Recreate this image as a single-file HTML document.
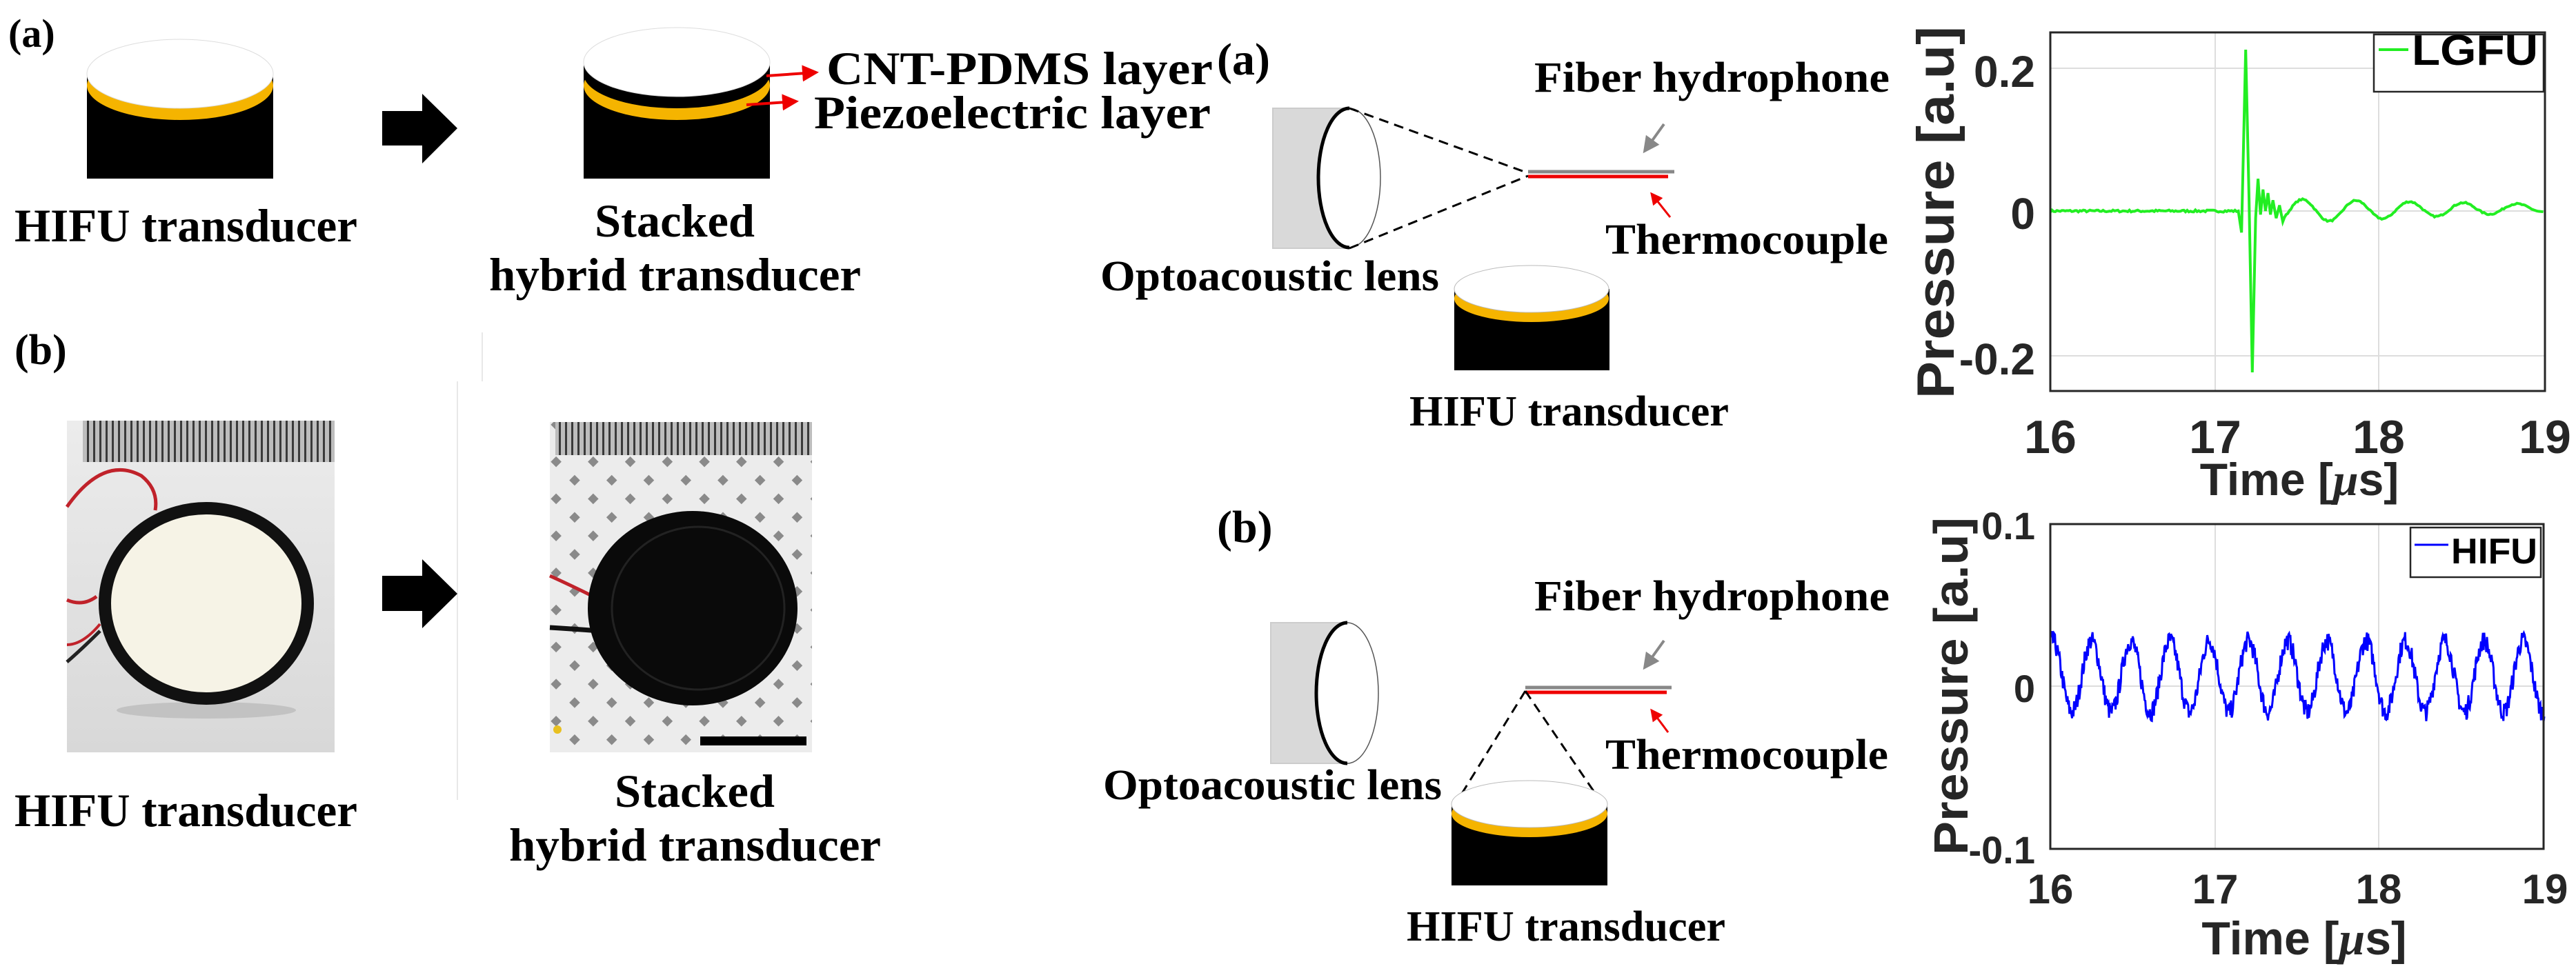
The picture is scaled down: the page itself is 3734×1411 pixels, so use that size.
<!DOCTYPE html>
<html><head><meta charset="utf-8"><style>
html,body{margin:0;padding:0;background:#fff}
svg{display:block}
.s{font-family:"Liberation Serif",serif;font-weight:bold;fill:#000}
.a{font-family:"Liberation Sans",sans-serif;font-weight:bold;fill:#262626}
</style></head><body>
<svg id="sv" width="3734" height="1411" viewBox="0 0 3734 1411" xmlns="http://www.w3.org/2000/svg">
<defs>
<pattern id="rul" width="9" height="60" patternUnits="userSpaceOnUse"><rect width="9" height="60" fill="#bdbdbd"/><rect width="3" height="60" fill="#3a3a3a"/></pattern>
<pattern id="dots" width="38" height="38" patternUnits="userSpaceOnUse" patternTransform="rotate(45)"><rect width="38" height="38" fill="#ececec"/><rect x="12" y="12" width="11" height="11" fill="#8a8a8a"/></pattern>
<linearGradient id="bg1" x1="0" y1="0" x2="0" y2="1"><stop offset="0" stop-color="#ececec"/><stop offset="1" stop-color="#d8d8d8"/></linearGradient>
<marker id="ar" markerWidth="6" markerHeight="6" refX="5" refY="3" orient="auto"><path d="M0,0L6,3L0,6z" fill="#e00"/></marker>
<marker id="ag" markerWidth="6" markerHeight="6" refX="5" refY="3" orient="auto"><path d="M0,0L6,3L0,6z" fill="#888"/></marker>
</defs>

<!-- LEFT (a) -->
<text class="s" x="12" y="68" font-size="58" font-weight="normal">(a)</text>
<rect x="126" y="107" width="270" height="152" fill="#000"/>
<ellipse cx="261" cy="124" rx="135" ry="50" fill="#f5b400"/>
<ellipse cx="261" cy="107" rx="135" ry="50" fill="#fff" stroke="#ddd" stroke-width="1"/>
<path d="M554,161H612V136L663,186L612,237V211H554Z" fill="#000"/>
<rect x="846" y="90" width="270" height="169" fill="#000"/>
<ellipse cx="981" cy="124" rx="135" ry="50" fill="#f5b400"/>
<ellipse cx="981" cy="107" rx="135" ry="50" fill="#000"/>
<ellipse cx="981" cy="90" rx="135" ry="50" fill="#fff" stroke="#ddd" stroke-width="1"/>
<line x1="1111" y1="110" x2="1183" y2="105" stroke="#e00" stroke-width="4" marker-end="url(#ar)"/>
<line x1="1082" y1="152" x2="1154" y2="147" stroke="#e00" stroke-width="4" marker-end="url(#ar)"/>
<text class="s" x="1198" y="122" font-size="68" font-weight="normal" textLength="560" lengthAdjust="spacingAndGlyphs">CNT-PDMS layer</text>
<text class="s" x="1180" y="186" font-size="68" font-weight="normal" textLength="575" lengthAdjust="spacingAndGlyphs">Piezoelectric layer</text>
<text class="s" x="21" y="350" font-size="68" textLength="497" lengthAdjust="spacingAndGlyphs">HIFU transducer</text>
<text class="s" x="862" y="343" font-size="68" textLength="232" lengthAdjust="spacingAndGlyphs">Stacked</text>
<text class="s" x="709" y="421" font-size="68" textLength="539" lengthAdjust="spacingAndGlyphs">hybrid transducer</text>

<!-- LEFT (b) -->
<text class="s" x="21" y="528" font-size="62" font-weight="normal">(b)</text>
<line x1="663" y1="553" x2="663" y2="1160" stroke="#e8e8e8" stroke-width="2"/>
<line x1="699" y1="482" x2="699" y2="553" stroke="#e8e8e8" stroke-width="2"/>
<rect x="97" y="610" width="388" height="481" fill="url(#bg1)"/>
<rect x="120" y="610" width="365" height="60" fill="url(#rul)"/>
<path d="M97,735 Q150,660 205,690 Q230,710 225,740" stroke="#c0222a" stroke-width="5" fill="none"/>
<path d="M97,870 Q120,880 140,865" stroke="#c0222a" stroke-width="5" fill="none"/>
<path d="M97,960 Q120,940 145,915" stroke="#222" stroke-width="5" fill="none"/>
<path d="M97,935 Q120,935 145,905" stroke="#c0222a" stroke-width="4" fill="none"/>
<ellipse cx="299" cy="1030" rx="130" ry="12" fill="#aaa" opacity=".5"/>
<ellipse cx="299" cy="875" rx="147" ry="138" fill="#f6f3e6" stroke="#111" stroke-width="18"/>
<path d="M554,835H612V811L663,861L612,911V886H554Z" fill="#000"/>
<rect x="797" y="612" width="380" height="479" fill="url(#dots)"/>
<rect x="805" y="612" width="372" height="48" fill="url(#rul)"/>
<path d="M797,835 Q830,850 860,865" stroke="#c0222a" stroke-width="5" fill="none"/>
<path d="M797,910 Q830,912 870,915" stroke="#111" stroke-width="7" fill="none"/>
<ellipse cx="1004" cy="882" rx="152" ry="141" fill="#0a0a0a"/>
<ellipse cx="1012" cy="882" rx="125" ry="118" fill="none" stroke="#222" stroke-width="3"/>
<circle cx="808" cy="1058" r="6" fill="#e8c020"/>
<rect x="1015" y="1068" width="154" height="13" fill="#000"/>
<text class="s" x="21" y="1198" font-size="68" textLength="497" lengthAdjust="spacingAndGlyphs">HIFU transducer</text>
<text class="s" x="891" y="1170" font-size="68" textLength="232" lengthAdjust="spacingAndGlyphs">Stacked</text>
<text class="s" x="738" y="1248" font-size="68" textLength="539" lengthAdjust="spacingAndGlyphs">hybrid transducer</text>

<!-- MIDDLE (a) -->
<text class="s" x="1764" y="108" font-size="66">(a)</text>
<rect x="1845" y="157" width="111" height="203" fill="#d9d9d9" stroke="#ccc" stroke-width="2"/>
<ellipse cx="1956" cy="258" rx="45" ry="101" fill="#fff" stroke="#555" stroke-width="1.5"/>
<path d="M1956,157 A45,101 0 0 0 1956,359" fill="none" stroke="#000" stroke-width="5"/>
<line x1="1956" y1="157" x2="2215" y2="251" stroke="#000" stroke-width="3" stroke-dasharray="14,9"/>
<line x1="1956" y1="360" x2="2215" y2="255" stroke="#000" stroke-width="3" stroke-dasharray="14,9"/>
<line x1="2215" y1="249" x2="2427" y2="249" stroke="#888" stroke-width="5"/>
<line x1="2215" y1="256" x2="2418" y2="256" stroke="#e00" stroke-width="5"/>
<line x1="2412" y1="180" x2="2384" y2="219" stroke="#888" stroke-width="4" marker-end="url(#ag)"/>
<line x1="2421" y1="315" x2="2394" y2="281" stroke="#e00" stroke-width="3" marker-end="url(#ar)"/>
<text class="s" x="2224" y="133" font-size="62" textLength="515" lengthAdjust="spacingAndGlyphs">Fiber hydrophone</text>
<text class="s" x="2327" y="368" font-size="62" textLength="410" lengthAdjust="spacingAndGlyphs">Thermocouple</text>
<text class="s" x="1595" y="421" font-size="62" textLength="491" lengthAdjust="spacingAndGlyphs">Optoacoustic lens</text>
<rect x="2108" y="419" width="225" height="118" fill="#000"/>
<ellipse cx="2220" cy="433" rx="112" ry="34" fill="#f5b400"/>
<ellipse cx="2220" cy="419" rx="112" ry="34" fill="#fff" stroke="#bbb" stroke-width="1"/>
<text class="s" x="2043" y="617" font-size="62" textLength="463" lengthAdjust="spacingAndGlyphs">HIFU transducer</text>

<!-- MIDDLE (b) -->
<text class="s" x="1764" y="786" font-size="66">(b)</text>
<rect x="1842" y="903" width="112" height="204" fill="#d9d9d9" stroke="#ccc" stroke-width="2"/>
<ellipse cx="1953" cy="1005" rx="45" ry="102" fill="#fff" stroke="#555" stroke-width="1.5"/>
<path d="M1953,903 A45,102 0 0 0 1953,1107" fill="none" stroke="#000" stroke-width="5"/>
<line x1="2211" y1="997" x2="2423" y2="997" stroke="#888" stroke-width="5"/>
<line x1="2211" y1="1004" x2="2416" y2="1004" stroke="#e00" stroke-width="5"/>
<line x1="2211" y1="1002" x2="2104" y2="1175" stroke="#000" stroke-width="3" stroke-dasharray="14,9"/>
<line x1="2211" y1="1002" x2="2329" y2="1175" stroke="#000" stroke-width="3" stroke-dasharray="14,9"/>
<line x1="2412" y1="929" x2="2384" y2="968" stroke="#888" stroke-width="4" marker-end="url(#ag)"/>
<line x1="2418" y1="1062" x2="2394" y2="1030" stroke="#e00" stroke-width="3" marker-end="url(#ar)"/>
<text class="s" x="2224" y="885" font-size="62" textLength="515" lengthAdjust="spacingAndGlyphs">Fiber hydrophone</text>
<text class="s" x="2327" y="1115" font-size="62" textLength="410" lengthAdjust="spacingAndGlyphs">Thermocouple</text>
<text class="s" x="1599" y="1159" font-size="62" textLength="491" lengthAdjust="spacingAndGlyphs">Optoacoustic lens</text>
<rect x="2104" y="1166" width="226" height="118" fill="#000"/>
<ellipse cx="2217" cy="1180" rx="113" ry="34" fill="#f5b400"/>
<ellipse cx="2217" cy="1166" rx="113" ry="34" fill="#fff" stroke="#bbb" stroke-width="1"/>
<text class="s" x="2039" y="1364" font-size="62" textLength="462" lengthAdjust="spacingAndGlyphs">HIFU transducer</text>

<!-- PLOT 1 -->
<g stroke="#ddd" stroke-width="2">
<line x1="3211" y1="47" x2="3211" y2="567"/><line x1="3448" y1="47" x2="3448" y2="567"/>
<line x1="2972" y1="99" x2="3689" y2="99"/><line x1="2972" y1="306" x2="3689" y2="306"/><line x1="2972" y1="516" x2="3689" y2="516"/>
</g>
<polyline id="g1" fill="none" stroke="#22ee22" stroke-width="4"/>
<rect x="2972" y="47" width="717" height="520" fill="none" stroke="#262626" stroke-width="3"/>
<rect x="3441" y="50" width="246" height="83" fill="#fff" stroke="#262626" stroke-width="2.5"/>
<line x1="3448" y1="72" x2="3491" y2="72" stroke="#22ee22" stroke-width="4"/>
<text class="a" x="3496" y="94" font-size="62" style="fill:#000" textLength="183" lengthAdjust="spacingAndGlyphs">LGFU</text>
<text class="a" x="2950" y="126" font-size="64" text-anchor="end">0.2</text>
<text class="a" x="2950" y="332" font-size="64" text-anchor="end">0</text>
<text class="a" x="2950" y="543" font-size="64" text-anchor="end">-0.2</text>
<text class="a" x="2972" y="657" font-size="68" text-anchor="middle">16</text>
<text class="a" x="3211" y="657" font-size="68" text-anchor="middle">17</text>
<text class="a" x="3448" y="657" font-size="68" text-anchor="middle">18</text>
<text class="a" x="3689" y="657" font-size="68" text-anchor="middle">19</text>
<text class="a" x="3333" y="718" font-size="66" text-anchor="middle">Time [<tspan font-style="italic" font-family="Liberation Serif">μ</tspan>s]</text>
<text class="a" transform="translate(2832,308) rotate(-90)" font-size="76" text-anchor="middle" textLength="540" lengthAdjust="spacingAndGlyphs">Pressure [a.u]</text>

<!-- PLOT 2 -->
<g stroke="#ddd" stroke-width="2">
<line x1="3211" y1="760" x2="3211" y2="1231"/><line x1="3448" y1="760" x2="3448" y2="1231"/>
<line x1="2972" y1="995" x2="3687" y2="995"/>
</g>
<polyline id="b1" fill="none" stroke="#0000ff" stroke-width="3"/>
<rect x="2972" y="760" width="715" height="471" fill="none" stroke="#262626" stroke-width="3"/>
<rect x="3494" y="765" width="189" height="72" fill="#fff" stroke="#262626" stroke-width="2.5"/>
<line x1="3500" y1="790" x2="3549" y2="790" stroke="#0000ff" stroke-width="3"/>
<text class="a" x="3553" y="817" font-size="52" style="fill:#000" textLength="125" lengthAdjust="spacingAndGlyphs">HIFU</text>
<text class="a" x="2950" y="782" font-size="56" text-anchor="end">0.1</text>
<text class="a" x="2950" y="1018" font-size="56" text-anchor="end">0</text>
<text class="a" x="2950" y="1252" font-size="56" text-anchor="end">-0.1</text>
<text class="a" x="2972" y="1310" font-size="60" text-anchor="middle">16</text>
<text class="a" x="3211" y="1310" font-size="60" text-anchor="middle">17</text>
<text class="a" x="3448" y="1310" font-size="60" text-anchor="middle">18</text>
<text class="a" x="3689" y="1310" font-size="60" text-anchor="middle">19</text>
<text class="a" x="3340" y="1384" font-size="68" text-anchor="middle">Time [<tspan font-style="italic" font-family="Liberation Serif">μ</tspan>s]</text>
<text class="a" transform="translate(2852,995) rotate(-90)" font-size="70" text-anchor="middle" textLength="490" lengthAdjust="spacingAndGlyphs">Pressure [a.u]</text>
</svg>
<script>
(function(){
var s=7;function r(){s=(s*16807)%2147483647;return s/2147483647-0.5;}
var X=function(t){return 2972+(t-16)*239;};
var p=[];
for(var t=16;t<17.14;t+=0.01){p.push([t,0.003*r()]);}
var sp=[[17.14,0],[17.16,-0.03],[17.185,0.225],[17.205,0.02],[17.225,-0.225],[17.245,-0.01],[17.26,0.045],[17.275,-0.005],[17.29,0.03],[17.305,0],[17.32,0.025],[17.335,-0.005],[17.35,0.015],[17.37,-0.01],[17.39,0.008],[17.41,-0.015]];
p=p.concat(sp);
for(t=17.42;t<=19;t+=0.01){var d=Math.max(0.2,1-(t-17.5)*0.45);p.push([t,0.016*d*Math.cos(2*Math.PI*(t-17.53)/0.325)+0.004*(t-17.4)/1.6+0.002*r()]);}
document.getElementById('g1').setAttribute('points',p.map(function(q){return X(q[0]).toFixed(1)+','+(306-q[1]*1040).toFixed(1);}).join(' '));
var b=[];
for(t=16;t<=19;t+=0.004){b.push([t,0.006+0.022*Math.cos(2*Math.PI*(t-16.25)/0.238)+0.012*r()]);}
document.getElementById('b1').setAttribute('points',b.map(function(q){return X(q[0]).toFixed(1)+','+(995-q[1]*2355).toFixed(1);}).join(' '));
})();
</script>
</body></html>
